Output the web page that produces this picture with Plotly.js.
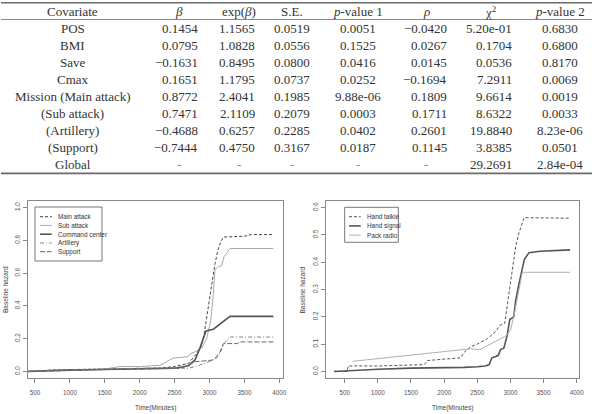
<!DOCTYPE html>
<html>
<head>
<meta charset="utf-8">
<script src="https://cdn.plot.ly/plotly-3.0.1.min.js"></script>
<style>html,body{margin:0;padding:0;background:#fff;}#chart{width:594px;height:414px;}</style>
</head>
<body>
<div id="chart"></div>
<script>
// ---------- Table data ----------
const headers = ['Covariate', '<i>β</i>', 'exp(<i>β</i>)', 'S.E.', '<i>p</i>-value 1', '<i>ρ</i>', 'χ<sup>2</sup>', '<i>p</i>-value 2'];
const covariates = ['POS', 'BMI', 'Save', 'Cmax', 'Mission (Main attack)', '(Sub attack)', '(Artillery)', '(Support)', 'Global'];
const beta = ['0.1454', '0.0795', '−0.1631', '0.1651', '0.8772', '0.7471', '−0.4688', '−0.7444', '-'];
const expBeta = ['1.1565', '1.0828', '0.8495', '1.1795', '2.4041', '2.1109', '0.6257', '0.4750', '-'];
const stdErr = ['0.0519', '0.0556', '0.0800', '0.0737', '0.1985', '0.2079', '0.2285', '0.3167', '-'];
const pValue1 = ['0.0051', '0.1525', '0.0416', '0.0252', '9.88e-06', '0.0003', '0.0402', '0.0187', '-'];
const rho = ['−0.0420', '0.0267', '0.0145', '−0.1694', '0.1809', '0.1711', '0.2601', '0.1145', '-'];
const chiSq = ['5.20e-01', '0.1704', '0.0536', '7.2911', '9.6614', '8.6322', '19.8840', '3.8385', '29.2691'];
const pValue2 = ['0.6830', '0.6800', '0.8170', '0.0069', '0.0019', '0.0033', '8.23e-06', '0.0501', '2.84e-04'];

// ---------- Left chart: mission ----------
const missionNames = ['Main attack', 'Sub attack', 'Command center', 'Artillery', 'Support'];
const mainTime = [400, 600, 800, 1500, 2000, 2300, 2500, 2600, 2700, 2800, 2880, 2920, 2960, 3000, 3040, 3080, 3120, 3160, 3200, 3500, 3600, 3915];
const mainHaz  = [0, 0.005, 0.01, 0.015, 0.018, 0.02, 0.03, 0.04, 0.05, 0.1, 0.15, 0.22, 0.33, 0.43, 0.55, 0.66, 0.74, 0.79, 0.82, 0.825, 0.835, 0.835];
const subTime = [400, 700, 1000, 1500, 1720, 2000, 2290, 2386, 2480, 2697, 2720, 2816, 2887, 2960, 3017, 3055, 3078, 3126, 3174, 3208, 3294, 3915];
const subHaz  = [0, 0.008, 0.01, 0.015, 0.03, 0.03, 0.037, 0.06, 0.082, 0.09, 0.107, 0.124, 0.144, 0.2, 0.31, 0.47, 0.62, 0.64, 0.645, 0.70, 0.75, 0.75];
const cmdTime = [400, 700, 1000, 1500, 2000, 2500, 2700, 2792, 2864, 2910, 2950, 3055, 3150, 3208, 3294, 3915];
const cmdHaz  = [0, 0.005, 0.008, 0.012, 0.015, 0.02, 0.035, 0.07, 0.144, 0.2, 0.247, 0.258, 0.289, 0.305, 0.336, 0.336];
const artTime = [400, 1000, 1750, 2000, 2500, 2700, 2800, 2900, 3000, 3100, 3150, 3200, 3260, 3290, 3915];
const artHaz  = [0, 0.008, 0.02, 0.02, 0.02, 0.02, 0.03, 0.045, 0.06, 0.08, 0.11, 0.16, 0.2, 0.21, 0.21];
const supTime = [400, 1000, 1500, 2000, 2600, 2700, 2800, 2950, 3050, 3100, 3150, 3200, 3400, 3420, 3915];
const supHaz  = [0, 0.008, 0.012, 0.015, 0.02, 0.04, 0.06, 0.065, 0.07, 0.09, 0.12, 0.17, 0.17, 0.18, 0.18];

// ---------- Right chart: communication ----------
const commNames = ['Hand talkie', 'Hand signal', 'Pack radio'];
const talkieTime = [340, 540, 550, 1000, 1700, 1750, 2000, 2250, 2300, 2400, 2500, 2650, 2750, 2850, 2914, 2960, 3005, 3080, 3130, 3206, 3900];
const talkieHaz  = [0, 0, 0.02, 0.02, 0.025, 0.04, 0.045, 0.05, 0.07, 0.09, 0.1, 0.12, 0.14, 0.17, 0.176, 0.25, 0.323, 0.459, 0.508, 0.563, 0.561];
const signalTime = [340, 550, 600, 1000, 1500, 2250, 2300, 2500, 2620, 2680, 2720, 2780, 2820, 2850, 2900, 2950, 2990, 3050, 3080, 3120, 3170, 3210, 3280, 3450, 3900];
const signalHaz  = [0, 0.003, 0.005, 0.008, 0.012, 0.013, 0.015, 0.017, 0.02, 0.025, 0.05, 0.055, 0.06, 0.08, 0.085, 0.13, 0.19, 0.2, 0.26, 0.31, 0.36, 0.41, 0.435, 0.44, 0.445];
const radioTime = [616, 1500, 2350, 2400, 2540, 2700, 2930, 3000, 3050, 3130, 3180, 3900];
const radioHaz  = [0.037, 0.06, 0.081, 0.083, 0.08, 0.1, 0.13, 0.15, 0.2, 0.3, 0.363, 0.363];

// ---------- helpers ----------
const W = 594, H = 414;
const px = x => x / W;
const py = y => 1 - y / H;
const serif = 'Liberation Serif, Times New Roman, serif';
const sans = 'Liberation Sans, Arial, sans-serif';
const txtCol = '#333';

const annotations = [];
const shapes = [];

// table columns: [values, align ('c' center, 'r' right), xpos, headerCenter]
const cols = [
  [covariates, 'c', 72.7, 72.7],
  [beta, 'r', 200, 179],
  [expBeta, 'r', 256.7, 239],
  [stdErr, 'r', 312.3, 292],
  [pValue1, 'c', 358, 357.5],
  [rho, 'r', 449, 426],
  [chiSq, 'r', 513.5, 491],
  [pValue2, 'c', 559.5, 559.5]
];
const headerY = 11.5;
const rowY0 = 28.5, rowStep = 16.97;
const tSize = 13;
cols.forEach((c, ci) => {
  annotations.push({xref: 'paper', yref: 'paper', x: px(c[3]), y: py(headerY), text: headers[ci],
    showarrow: false, xanchor: 'center', yanchor: 'middle', font: {family: serif, size: tSize, color: txtCol}});
  c[0].forEach((v, ri) => {
    const isDash = v === '-';
    const right = c[1] === 'r' && !isDash;
    annotations.push({xref: 'paper', yref: 'paper', x: px(right ? c[2] : c[3]), y: py(rowY0 + ri * rowStep), text: v,
      showarrow: false, xanchor: right ? 'right' : 'center', yanchor: 'middle',
      font: {family: serif, size: tSize, color: isDash ? '#888' : txtCol}});
  });
});
// table rules
[[2.7, 1.6], [19.5, 0.8], [173.3, 1.8]].forEach(r => {
  shapes.push({type: 'line', xref: 'paper', yref: 'paper', x0: px(1), x1: px(592), y0: py(r[0]), y1: py(r[0]),
    line: {color: '#6a6a6a', width: r[1]}});
});

// line styles
const styles = {
  'Main attack': {color: '#444', width: 1, dash: '3px,2px'},
  'Sub attack': {color: '#aaa', width: 1, dash: 'solid'},
  'Command center': {color: '#555', width: 1.6, dash: 'solid'},
  'Artillery': {color: '#888', width: 1, dash: '4px,2px,1px,2px'},
  'Support': {color: '#666', width: 1, dash: '5px,2px'},
  'Hand talkie': {color: '#555', width: 1, dash: '3px,2px'},
  'Hand signal': {color: '#555', width: 1.6, dash: 'solid'},
  'Pack radio': {color: '#b0b0b0', width: 1, dash: 'solid'}
};

const leftSeries = [[mainTime, mainHaz], [subTime, subHaz], [cmdTime, cmdHaz], [artTime, artHaz], [supTime, supHaz]];
const rightSeries = [[talkieTime, talkieHaz], [signalTime, signalHaz], [radioTime, radioHaz]];
const traces = [];
leftSeries.forEach((s, i) => traces.push({x: s[0], y: s[1], type: 'scatter', mode: 'lines', name: missionNames[i],
  xaxis: 'x', yaxis: 'y', line: styles[missionNames[i]], hoverinfo: 'skip'}));
rightSeries.forEach((s, i) => traces.push({x: s[0], y: s[1], type: 'scatter', mode: 'lines', name: commNames[i],
  xaxis: 'x2', yaxis: 'y2', line: styles[commNames[i]], hoverinfo: 'skip'}));

// legends (drawn manually, R style)
function legend(box, names, yStart, step, lx0, lx1, tx) {
  shapes.push({type: 'rect', xref: 'paper', yref: 'paper', x0: px(box[0]), x1: px(box[1]), y0: py(box[2]), y1: py(box[3]),
    line: {color: '#777', width: 1}, fillcolor: 'rgba(255,255,255,1)', layer: 'above'});
  names.forEach((n, i) => {
    const y = yStart + i * step;
    const st = styles[n];
    shapes.push({type: 'line', xref: 'paper', yref: 'paper', x0: px(lx0), x1: px(lx1), y0: py(y), y1: py(y),
      line: {color: st.color, width: st.width, dash: st.dash}, layer: 'above'});
    annotations.push({xref: 'paper', yref: 'paper', x: px(tx), y: py(y), text: n, showarrow: false,
      xanchor: 'left', yanchor: 'middle', font: {family: sans, size: 6.4, color: '#333'}});
  });
}
legend([35, 102, 207, 261], missionNames, 216.7, 8.75, 40, 51.7, 55.5);
legend([344.7, 398.3, 207.3, 242.3], commNames, 216.7, 9.2, 349, 360.7, 365);

// axis titles (R style)
[5, 301.5].forEach(x => annotations.push({xref: 'paper', yref: 'paper', x: px(x), y: py(290), textangle: -90,
  text: 'Baseline hazard', showarrow: false, xanchor: 'center', yanchor: 'middle', font: {family: sans, size: 6.5, color: '#444'}}));
[155.5, 452].forEach(x => annotations.push({xref: 'paper', yref: 'paper', x: px(x), y: py(408),
  text: 'Time(Minutes)', showarrow: false, xanchor: 'center', yanchor: 'middle', font: {family: sans, size: 6.5, color: '#444'}}));

const xTicks = [500, 1000, 1500, 2000, 2500, 3000, 3500, 4000];
const yTicksL = [0, 0.2, 0.4, 0.6, 0.8, 1.0];
const yTicksR = [0, 0.1, 0.2, 0.3, 0.4, 0.5, 0.6];
const axBase = {showline: true, mirror: true, linecolor: '#888', linewidth: 1, ticks: 'outside', ticklen: 4,
  tickcolor: '#888', tickwidth: 1, showgrid: false, zeroline: false, fixedrange: true, automargin: false,
  tickfont: {family: sans, size: 6.3, color: '#555'}};
const yDomain = [py(378), py(201)];

const layout = {
  width: W, height: H, margin: {l: 0, r: 0, t: 0, b: 0}, paper_bgcolor: '#fff', plot_bgcolor: '#fff',
  showlegend: false,
  xaxis: Object.assign({}, axBase, {domain: [px(28), px(283)], range: [400, 4053], anchor: 'y', tickvals: xTicks,
    ticklabelstandoff: 4}),
  yaxis: Object.assign({}, axBase, {domain: yDomain, range: [-0.04, 1.04], anchor: 'x', tickvals: yTicksL,
    ticktext: yTicksL.map(v => v.toFixed(1)), tickangle: -90}),
  xaxis2: Object.assign({}, axBase, {domain: [px(325.7), px(579)], range: [213, 4035], anchor: 'y2', tickvals: xTicks,
    ticklabelstandoff: 4}),
  yaxis2: Object.assign({}, axBase, {domain: yDomain, range: [-0.024, 0.624], anchor: 'x2', tickvals: yTicksR,
    ticktext: yTicksR.map(v => v.toFixed(1)), tickangle: -90}),
  annotations: annotations,
  shapes: shapes
};

Plotly.newPlot('chart', traces, layout, {staticPlot: true, displayModeBar: false});
</script>
</body>
</html>
